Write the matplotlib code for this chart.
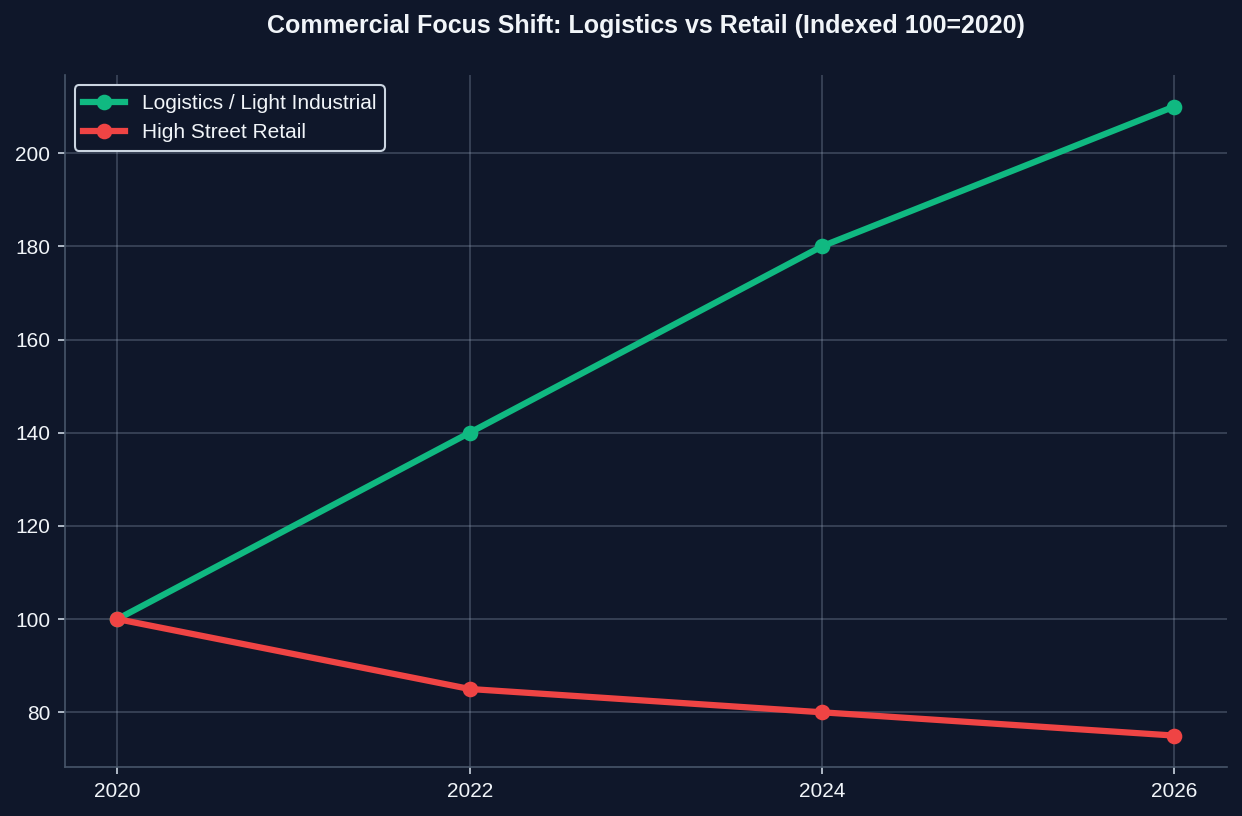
import matplotlib
matplotlib.use("Agg")
import matplotlib.pyplot as plt

years = [2020, 2022, 2024, 2026]
logistics = [100, 140, 180, 210]
retail = [100, 85, 80, 75]
labels = ["Logistics / Light Industrial", "High Street Retail"]

plt.rcParams['font.family'] = ['Liberation Sans', 'DejaVu Sans']
bg = '#0f172a'
DPI = 150
fig = plt.figure(figsize=(1242 / DPI, 816 / DPI), dpi=DPI, facecolor=bg)
ax = fig.add_axes([0.052, 0.060, 0.936, 0.848], facecolor=bg)

ax.plot(years, logistics, color='#10b981', lw=3, marker='o', ms=6.5, label=labels[0])
ax.plot(years, retail, color='#ef4444', lw=3, marker='o', ms=6.5, label=labels[1])

ax.set_xticks(years)
ax.set_xticklabels([str(y) for y in years])
ax.grid(True, color='#94a3b8', alpha=0.3, lw=0.9)
ax.set_axisbelow(True)
for s in ['top', 'right']:
    ax.spines[s].set_visible(False)
for s in ['left', 'bottom']:
    ax.spines[s].set_color('#475569')
    ax.spines[s].set_linewidth(0.8)
ax.tick_params(labelcolor='#f1f5f9', labelsize=10, length=3.5, width=0.8, color='#cbd5e1')

ax.set_title("Commercial Focus Shift: Logistics vs Retail (Indexed 100=2020)",
             color='#f1f5f9', fontsize=12, fontweight='bold', pad=20)

leg = ax.legend(loc='upper left', fontsize=10, facecolor=bg, edgecolor='#cbd5e1',
                labelcolor='#f1f5f9', framealpha=1)

fig.savefig('out.png', dpi=DPI, facecolor=bg)
